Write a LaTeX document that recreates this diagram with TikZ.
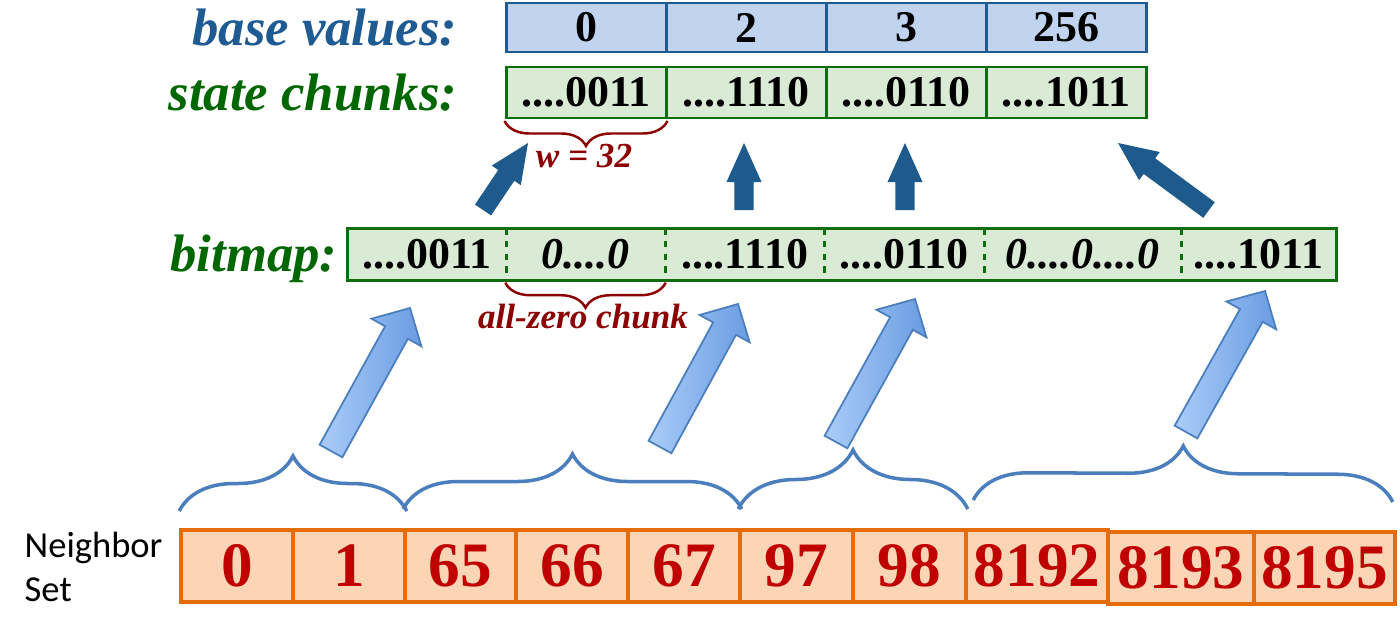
\documentclass[tikz,border=0pt]{standalone}
\usepackage{fontspec}
\setmainfont{Liberation Serif}
\newfontfamily\calfont{Carlito}
\usepackage{tikz}
\usetikzlibrary{calc,backgrounds,decorations.pathreplacing}
\definecolor{baseblue}{HTML}{1F5B93}
\definecolor{basefill}{HTML}{C0D4F0}
\definecolor{stgreen}{HTML}{006600}
\definecolor{stfill}{HTML}{D9EBD4}
\definecolor{stedge}{HTML}{0E6E0E}
\definecolor{chunkred}{HTML}{8B0000}
\definecolor{updark}{HTML}{1F5A8C}
\definecolor{lightA}{HTML}{AACCF8}
\definecolor{lightB}{HTML}{6A9CE2}
\definecolor{lightedge}{HTML}{4A7EBD}
\definecolor{nbrfill}{HTML}{FBD5B5}
\definecolor{nbredge}{HTML}{E46C0A}
\definecolor{nbrtext}{HTML}{C00000}
\tikzset{
  cell/.style  ={rectangle, inner sep=0pt, font=\fontsize{12.5}{14}\selectfont\bfseries},
  bcell/.style ={cell, draw=baseblue, fill=basefill, line width=0.85pt,
                 minimum width=16mm, minimum height=4.9mm},
  scell/.style ={cell, draw=stedge, fill=stfill, line width=0.85pt,
                 minimum width=16mm, minimum height=5.1mm},
  mcell/.style ={cell, minimum height=5.1mm},
  bitbox/.style={draw=stedge, fill=stfill, line width=0.85pt},
  divider/.style={draw=stedge, line width=0.85pt, dash pattern=on 1.8pt off 1.8pt},
  ncell/.style ={rectangle, inner sep=0pt, draw=nbredge, fill=nbrfill, line width=1pt,
                 minimum height=7.2mm, text=nbrtext, font=\fontsize{18}{20}\selectfont\bfseries},
  rowlab/.style={anchor=base east, inner sep=0pt, font=\fontsize{15}{17}\selectfont\bfseries\itshape},
  note/.style  ={anchor=base, inner sep=0pt, text=chunkred,
                 font=\fontsize{10}{12}\selectfont\bfseries\itshape},
  % braces: red under one chunk, blue over groups of neighbours
  rbrace/.style={draw=chunkred, line width=0.7pt, decorate, decoration={brace, amplitude=2.5mm}},
  nbrace/.style={draw=lightedge, line width=1pt, decorate, decoration={brace, amplitude=5.5mm}},
  darrow/.style={fill=updark},
  larrow/.style={draw=lightedge, line width=0.5pt, left color=lightA, right color=lightB},
}
\newcommand{\chdots}{....}
\def\baselist{v1/586/0, v2/746/2, v3/906/3, v4/1066/256}
\def\statelist{s1/586/\chdots0011, s2/746/\chdots1110, s3/906/\chdots0110, s4/1066/\chdots1011}
\def\bitlist{m1/348/506/\chdots0011, m2/506/665/\textit{0\chdots0}, m3/665/824/\chdots1110,
             m4/824/984/\chdots0110, m5/984/1181/\textit{0\chdots0\chdots0}, m6/1181/1336/\chdots1011}
\def\nbrlist{n0/181/293/528/0, n1/293/405/528/1, n2/405/516/528/65, n3/516/628/528/66,
             n4/628/740/528/67, n5/740/853/528/97, n6/853/966/528/98,
             n7/966/1108/528/8192, n8/1108/1254/530/8193, n9/1254/1395/530/8195}
\newcommand{\blockarrow}[6]{% #1 = style, #2 = tail, #3 = tip, #4 = half shaft, #5 = half head, #6 = head length
  \coordinate (hb) at ($(#3)!#6!(#2)$);
  \path[#1] ($(#2)!#4!90:(#3)$) -- ($(hb)!#4!90:(#3)$) -- ($(hb)!#5!90:(#3)$)
     -- (#3) -- ($(hb)!#5!-90:(#3)$) -- ($(hb)!#4!-90:(#3)$) -- ($(#2)!#4!-90:(#3)$) -- cycle;}

\begin{document}
\begin{tikzpicture}[x=0.1mm,y=-0.1mm]
\useasboundingbox (0,0) rectangle (1400,637);
\node[rowlab,text=baseblue] (lbase) at (458,45) {base values:};
\node[rowlab,text=stgreen] (lstate) at (458,110) {state chunks:};
\node[rowlab,text=stgreen] (lbit) at (338,271) {bitmap:};
\foreach \n/\x/\v in \baselist
  {\node[bcell] (\n) at (\x,27.5) {\v};}
\foreach \n/\x/\v in \statelist
  {\node[scell] (\n) at (\x,92.5) {\v};}
\foreach \n/\l/\r/\v in \bitlist
  {\pgfmathsetmacro\cx{(\l+\r)/2}\pgfmathsetmacro\cw{(\r-\l)/10}
   \node[mcell,minimum width=\cw mm] (\n) at (\cx,254.5) {\v};}
\begin{scope}[on background layer]
  \draw[bitbox] (m1.north west) rectangle (m6.south east);
\end{scope}
\foreach \a in {m1,m2,m3,m4,m5}
  {\draw[divider] (\a.north east) -- (\a.south east);}
\draw[rbrace] ([yshift=-0.15mm]s1.south east) -- ([yshift=-0.15mm]s1.south west);
\node[note] (wnote) at (584,167) {w = 32};
\draw[rbrace] ([yshift=-0.2mm]m2.south east) -- ([yshift=-0.2mm]m2.south west);
\node[note] (znote) at (583,328) {all-zero chunk};
% neighbour set
\node[anchor=west,inner sep=0pt,align=left,font=\calfont\fontsize{10.4}{12.5}\selectfont]
  (nset) at (24,567) {Neighbor\\Set};
\foreach \n/\l/\r/\t/\v in \nbrlist
  {\pgfmathsetmacro\cx{(\l+\r)/2}\pgfmathsetmacro\cw{(\r-\l)/10}
   \node[ncell,minimum width=\cw mm,anchor=north] (\n) at (\cx,\t) {\v};}
\draw[nbrace] ([yshift=1.7mm]n0.north west) -- ([yshift=1.7mm]n1.north east);
\draw[nbrace] ([yshift=1.9mm]n2.north west) -- ([yshift=1.9mm]n4.north east);
\draw[nbrace,decoration={amplitude=5.9mm}] ([yshift=1.9mm]n5.north west) -- ([yshift=1.9mm]n6.north east);
\draw[nbrace] ([xshift=0.9mm,yshift=2.8mm]n7.north west) -- ([xshift=-0.4mm,yshift=2.8mm]n9.north east);
% arrows
\foreach \i/\ax/\ay/\bx/\by in {1/331/451/410/308, 2/660/447/738/304, 3/836/442/915/299, 4/1186/432/1265/291}
  {\coordinate (lt\i) at (\ax,\ay); \coordinate (lh\i) at (\bx,\by);
   \blockarrow{larrow}{lt\i}{lh\i}{1.3mm}{2.85mm}{2.8mm}}
\foreach \i/\ax/\ay/\bx/\by in {1/483/210/528/143, 2/744/210/744/143, 3/905/210/905/143, 4/1209/210/1118/143}
  {\coordinate (dt\i) at (\ax,\ay); \coordinate (dh\i) at (\bx,\by);
   \blockarrow{darrow}{dt\i}{dh\i}{0.97mm}{1.75mm}{3.9mm}}
\end{tikzpicture}
\end{document}
